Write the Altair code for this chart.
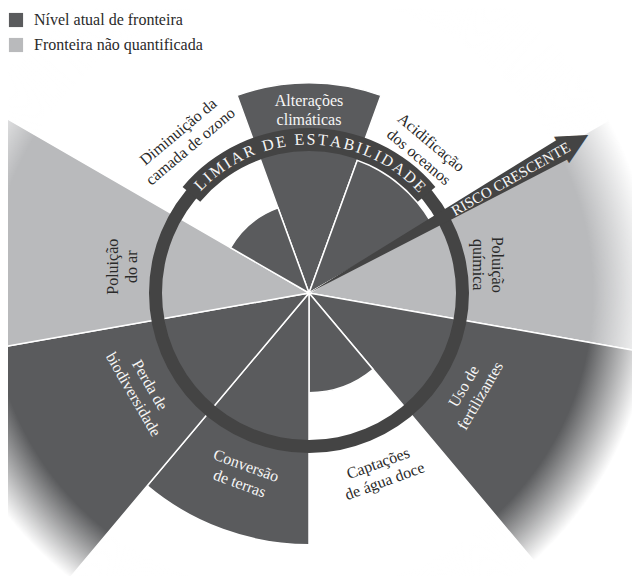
import math
import altair as alt
import pandas as pd

DARK = "#5a5b5d"
LIGHT = "#b9babc"
RING = "#444444"
INK = "#2a2a2a"
WHITE_TXT = "#f6f6f6"
FONT = "Liberation Serif"

CX, CY = 301, 285          # centre of the diagram (chart pixels)
R_THRESHOLD = 153.5        # pixel radius of the stability threshold (=1)
LINE_H = 19

# ---- data -------------------------------------------------------------
Q = "Nível atual de fronteira"
N = "Fronteira não quantificada"
legend_labels = [Q, N]
legend_colors = [DARK, LIGHT]

sector_names = ["Alterações climáticas", "Acidificação dos oceanos", "Poluição química",
                "Uso de fertilizantes", "Captações de água doce", "Conversão de terras",
                "Perda de biodiversidade", "Poluição do ar", "Diminuição da camada de ozono"]
sector_start = [-20, 20, 60, 100, 140, 180, 220, 260, 300]
sector_end = [20, 60, 100, 140, 180, 220, 260, 300, 340]
sector_level = [1.37, 0.92, 2.6, 2.6, 0.65, 1.64, 2.6, 2.6, 0.59]
sector_status = [Q, Q, N, Q, Q, Q, Q, N, Q]

label_text = ["Alterações\nclimáticas", "Acidificação\ndos oceanos", "Poluição\nquímica",
              "Uso de\nfertilizantes", "Captações\nde água doce", "Conversão\nde terras",
              "Perda de\nbiodiversidade", "Poluição\ndo ar", "Diminuição da\ncamada de ozono"]
label_theta = [0, 39, 81, 121, 158, 200, 240, 278, 321]
label_radius = [1.19, 1.20, 1.18, 1.24, 1.26, 1.26, 1.26, 1.23, 1.29]
label_angle = [0, 40, 90, 300, 340, 20, 60, 270, 320]
label_white = [True, False, False, True, False, True, True, False, False]

threshold_label = "LIMIAR DE ESTABILIDADE"
threshold_center_deg = 0.5
threshold_span_deg = 91

arrow_label = "RISCO CRESCENTE"
arrow_theta = 60.5
arrow_length = 1.93
arrow_half_width = 2.2

# ---- tables -------------------------------------------------------------
sectors = pd.DataFrame({"name": sector_names, "t0": sector_start, "t1": sector_end,
                        "level": sector_level, "status": sector_status})
labels = pd.DataFrame({"text": label_text, "theta": label_theta, "r": label_radius,
                       "angle": label_angle, "white": label_white})

# per-character placement of the curved threshold label
W = {'L': .611, 'I': .333, 'M': .889, 'A': .722, 'R': .667, ' ': .25, 'D': .722,
     'E': .611, 'S': .556, 'T': .611, 'B': .667}
fs = 16
widths = [W[c] * fs for c in threshold_label]
inner = sum(widths) - widths[0] / 2 - widths[-1] / 2
track = (math.radians(threshold_span_deg) * R_THRESHOLD - inner) / (len(widths) - 1)
pos, centers = 0.0, []
for w in widths:
    centers.append(pos + w / 2)
    pos += w + track
mid = (centers[0] + centers[-1]) / 2
char_theta = [threshold_center_deg + math.degrees((c - mid) / R_THRESHOLD) for c in centers]
chars = pd.DataFrame({"ch": list(threshold_label), "theta": char_theta,
                      "r": [1.0] * len(widths),
                      "angle": [t % 360 for t in char_theta]})

arrow = pd.DataFrame({"t0": [arrow_theta - arrow_half_width], "t1": [arrow_theta + arrow_half_width],
                      "len": [arrow_length], "theta": [arrow_theta],
                      "head_r": [arrow_length + 0.07], "text_r": [1.51],
                      "label": [arrow_label], "head_angle": [arrow_theta],
                      "text_angle": [(arrow_theta - 90) % 360]})
one = pd.DataFrame({"k": [0]})

theta_scale = alt.Scale(domain=[0, 360], range=[0, 2 * math.pi])
radius_scale = alt.Scale(type="linear", domain=[0, 1], range=[0, R_THRESHOLD])
X = alt.value(CX)
Y = alt.value(CY)

# ---- layers -------------------------------------------------------------
sector_layer = alt.Chart(sectors).mark_arc(stroke="white", strokeWidth=1.5, clip=True).encode(
    x=X, y=Y,
    theta=alt.Theta("t0:Q", scale=theta_scale, stack=False),
    theta2="t1:Q",
    radius=alt.Radius("level:Q", scale=radius_scale),
    color=alt.Color("status:N", scale=alt.Scale(domain=legend_labels, range=legend_colors),
                    legend=alt.Legend(title=None, orient="none", legendX=0, legendY=4,
                                      symbolType="square", symbolSize=200, symbolStrokeWidth=0,
                                      symbolOpacity=1, labelFont=FONT, labelFontSize=16,
                                      labelColor=INK, rowPadding=9, padding=0, labelOffset=10,
                                      labelLimit=400)),
)

fade = alt.RadialGradient(
    gradient="radial",
    stops=[alt.GradientStop(offset=0, color="rgba(255,255,255,0)"),
           alt.GradientStop(offset=0.70, color="rgba(255,255,255,0)"),
           alt.GradientStop(offset=0.84, color="rgba(255,255,255,1)"),
           alt.GradientStop(offset=1, color="rgba(255,255,255,1)")],
    x1=0.48, y1=0.5, r1=0, x2=0.48, y2=0.5, r2=0.5)
fade_layer = alt.Chart(one).mark_arc(theta=0, theta2=2 * math.pi, radius=430, fill=fade,
                                     clip=True).encode(x=X, y=Y)

ring_layer = alt.Chart(one).mark_arc(theta=0, theta2=2 * math.pi, radius=160, radius2=147,
                                     color=RING).encode(x=X, y=Y)
band_layer = alt.Chart(one).mark_arc(theta=math.radians(310), theta2=math.radians(410),
                                     radius=165, radius2=142, color=RING).encode(x=X, y=Y)

arrow_layer = alt.Chart(arrow).mark_arc(color=RING).encode(
    x=X, y=Y,
    theta=alt.Theta("t0:Q", scale=theta_scale, stack=False), theta2="t1:Q",
    radius=alt.Radius("len:Q", scale=radius_scale))
head_layer = alt.Chart(arrow).mark_text(text="▲", font="DejaVu Sans", fontSize=40, color=RING,
                                        align="center", baseline="middle").encode(
    x=X, y=Y,
    theta=alt.Theta("theta:Q", scale=theta_scale, stack=False),
    radius=alt.Radius("head_r:Q", scale=radius_scale),
    angle=alt.Angle("head_angle:Q", scale=None))
arrow_text = alt.Chart(arrow).mark_text(font=FONT, fontSize=15, color=WHITE_TXT,
                                        align="center", baseline="middle").encode(
    x=X, y=Y, text="label:N",
    theta=alt.Theta("theta:Q", scale=theta_scale, stack=False),
    radius=alt.Radius("text_r:Q", scale=radius_scale),
    angle=alt.Angle("text_angle:Q", scale=None))

limiar_text = alt.Chart(chars).mark_text(font=FONT, fontSize=fs, color=WHITE_TXT,
                                         align="center", baseline="middle").encode(
    x=X, y=Y, text="ch:N",
    theta=alt.Theta("theta:Q", scale=theta_scale, stack=False),
    radius=alt.Radius("r:Q", scale=radius_scale),
    angle=alt.Angle("angle:Q", scale=None))


def label_layer(white):
    # dy (applied in the rotated text frame) centres the two-line block on its anchor
    return alt.Chart(labels).transform_filter(
        alt.datum.white if white else ~alt.datum.white
    ).mark_text(font=FONT, fontSize=16, lineHeight=LINE_H, lineBreak="\n", dy=-LINE_H / 2,
                color=WHITE_TXT if white else INK, align="center", baseline="middle").encode(
        x=X, y=Y, text="text:N",
        theta=alt.Theta("theta:Q", scale=theta_scale, stack=False),
        radius=alt.Radius("r:Q", scale=radius_scale),
        angle=alt.Angle("angle:Q", scale=None))


chart = alt.layer(
    sector_layer, fade_layer, ring_layer, band_layer, arrow_layer, head_layer,
    arrow_text, limiar_text, label_layer(True), label_layer(False)
).properties(
    width=624, height=568, padding=0,
    autosize=alt.AutoSizeParams(type="none"),
).configure_view(strokeWidth=0)

chart.save("out.html", embed_options={"renderer": "svg", "actions": False})
